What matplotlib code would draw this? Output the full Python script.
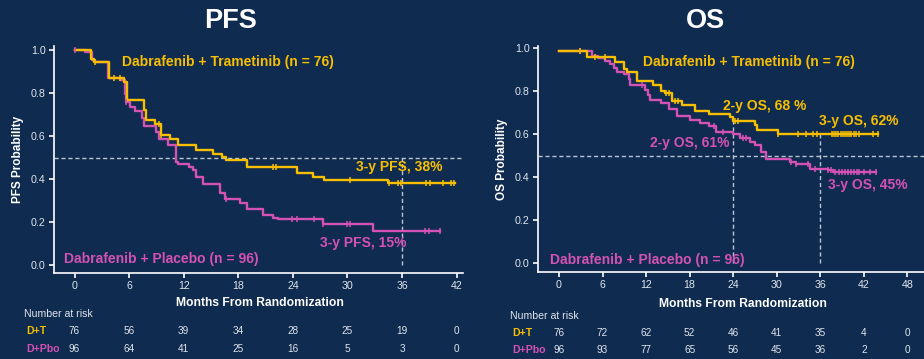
########################
## PFS / OS Kaplan-Meier panels
########################

import matplotlib
matplotlib.use("Agg")
import matplotlib.pyplot as plt
import numpy as np

plt.rcParams['font.family'] = ['Liberation Sans', 'DejaVu Sans']

# Colours
BG = '#0f2b50'
YELLOW = '#f7bf00'
MAGENTA = '#d452b4'
WHITE = '#ffffff'
LIGHT = '#dfe5ec'
DASH = '#b9c4d0'

# PFS, Dabrafenib + Trametinib
pfs_dt_time = [0, 1.8, 2.1, 3.8, 5.4, 5.8, 7.6, 7.9, 8.8, 9.5, 10.5, 11.4, 13.3, 15.2, 16.2, 16.6, 19.0, 24.4, 26.2, 27.4, 34.5]
pfs_dt_surv = [1.0, 0.957, 0.944, 0.869, 0.853, 0.769, 0.721, 0.676, 0.657, 0.603, 0.585, 0.558, 0.533, 0.516, 0.502, 0.488, 0.456, 0.429, 0.411, 0.395, 0.38]
pfs_dt_end = 41.8
pfs_dt_cens = [2.2, 4.3, 5.0, 9.3, 9.5, 21.8, 22.1, 30.3, 34.6, 35.6, 35.9, 38.6, 39.1, 40.5, 41.4, 41.7]

# PFS, Dabrafenib + Placebo
pfs_dp_time = [0, 1.1, 1.9, 2.3, 3.7, 5.0, 5.5, 5.7, 6.1, 6.6, 7.4, 7.6, 9.0, 9.3, 10.3, 11.2, 11.4, 12.6, 13.0, 13.3, 14.1, 16.0, 16.5, 18.2, 19.0, 20.7, 21.8, 22.4, 27.3, 32.8]
pfs_dp_surv = [1.0, 0.99, 0.955, 0.943, 0.871, 0.86, 0.795, 0.76, 0.737, 0.716, 0.682, 0.647, 0.62, 0.586, 0.558, 0.48, 0.47, 0.457, 0.44, 0.41, 0.377, 0.333, 0.307, 0.287, 0.259, 0.233, 0.217, 0.212, 0.19, 0.157]
pfs_dp_end = 40.2
pfs_dp_cens = [0.0, 5.7, 16.7, 23.9, 24.4, 26.3, 27.3, 29.9, 30.3, 38.5, 39.0, 40.2]

# OS, Dabrafenib + Trametinib
os_dt_time = [0, 3.8, 7.7, 8.95, 9.3, 10.7, 13.0, 14.1, 14.6, 15.5, 16.9, 18.7, 20.6, 23.5, 24.0, 27.0, 27.3, 30.2]
os_dt_surv = [0.987, 0.96, 0.934, 0.904, 0.888, 0.847, 0.83, 0.80, 0.79, 0.755, 0.735, 0.708, 0.694, 0.679, 0.663, 0.643, 0.618, 0.602]
os_dt_end = 44.0
os_dt_cens = [2.9, 5.0, 6.3, 14.8, 15.1, 16.0, 16.4, 24.2, 24.7, 30.2, 33.0, 34.0, 35.0, 35.6,
              37.6, 37.9, 38.2, 38.5, 38.8, 39.1, 39.4, 39.7, 40.0, 40.3, 40.6, 40.9, 41.3, 43.3, 44.0]

# OS, Dabrafenib + Placebo
os_dp_time = [0, 4.5, 5.4, 6.3, 7.0, 7.6, 8.0, 8.9, 9.6, 9.8, 11.8, 12.3, 12.5, 14.1, 15.1, 16.2, 18.0, 19.4, 20.6, 21.7, 24.0, 24.9, 26.3, 27.0, 27.9, 28.5, 31.9, 32.7, 34.6, 37.1, 37.8]
os_dp_surv = [0.985, 0.965, 0.954, 0.942, 0.927, 0.908, 0.888, 0.878, 0.858, 0.827, 0.804, 0.781, 0.758, 0.743, 0.717, 0.685, 0.667, 0.651, 0.636, 0.609, 0.599, 0.583, 0.563, 0.548, 0.517, 0.483, 0.473, 0.463, 0.44, 0.432, 0.424]
os_dp_end = 43.7
os_dp_cens = [2.9, 11.4, 21.3, 22.6, 25.4, 25.8, 32.0, 32.7, 34.3, 35.3, 37.1, 37.5, 38.0,
              38.6, 39.0, 39.4, 39.8, 40.2, 40.6, 41.0, 41.4, 42.0, 42.8, 43.7]

# Number at risk
pfs_ticks = [0, 6, 12, 18, 24, 30, 36, 42]
pfs_risk_dt = [76, 56, 39, 34, 28, 25, 19, 0]
pfs_risk_dp = [96, 64, 41, 25, 16, 5, 3, 0]
os_ticks = [0, 6, 12, 18, 24, 30, 36, 42, 48]
os_risk_dt = [76, 72, 62, 52, 46, 41, 35, 4, 0]
os_risk_dp = [96, 93, 77, 65, 56, 45, 36, 2, 0]

W, H = 924, 359


def fx(px):
    return px / W


def fy(py):
    return 1 - py / H


def km(ax, time, surv, end, cens, color):
    '''
    Step curve plus censor ticks
    '''
    t = list(time) + [end]
    s = list(surv) + [surv[-1]]
    ax.step(t, s, where='post', color=color, lw=1.7, zorder=3)
    idx = np.searchsorted(np.array(time), np.array(cens), side='right') - 1
    ax.plot(cens, np.array(surv)[idx], ls='none', marker='|', ms=5, mew=1.1, color=color, zorder=4)


def style_axes(ax, ticks, xlim, ylim):
    ax.set_facecolor(BG)
    ax.set_xlim(*xlim)
    ax.set_ylim(*ylim)
    for side in ['top', 'right']:
        ax.spines[side].set_visible(False)
    for side in ['left', 'bottom']:
        ax.spines[side].set_color(WHITE)
        ax.spines[side].set_linewidth(1.2)
    ax.set_xticks(ticks)
    ax.set_yticks([0.0, 0.2, 0.4, 0.6, 0.8, 1.0])
    ax.set_yticklabels(['0.0', '0.2', '0.4', '0.6', '0.8', '1.0'])
    ax.tick_params(colors=WHITE, labelcolor=LIGHT, labelsize=7.7, length=3.5, width=1.2, pad=2.5)


fig = plt.figure(figsize=(W / 100, H / 100), dpi=100)
fig.patch.set_facecolor(BG)

# PFS panel
ax1 = fig.add_axes([fx(54), fy(273), fx(463 - 54), (273 - 46) / H])
style_axes(ax1, pfs_ticks, (-2.26, 42.7), (-0.037, 1.019))
ax1.axhline(0.5, color=DASH, lw=1, ls=(0, (3, 2)), zorder=1)
ax1.plot([36, 36], [0, 0.5], color=DASH, lw=1, ls=(0, (3, 2)), zorder=1)
km(ax1, pfs_dp_time, pfs_dp_surv, pfs_dp_end, pfs_dp_cens, MAGENTA)
km(ax1, pfs_dt_time, pfs_dt_surv, pfs_dt_end, pfs_dt_cens, YELLOW)
ax1.set_ylabel('PFS Probability', color=WHITE, fontsize=8.5, fontweight='bold', labelpad=5)

# OS panel
ax2 = fig.add_axes([fx(538), fy(271.7), fx(924 - 538), (271.7 - 46) / H])
style_axes(ax2, os_ticks, (-2.9, 50.3), (-0.039, 1.01))
ax2.axhline(0.5, color=DASH, lw=1, ls=(0, (3, 2)), zorder=1)
ax2.plot([24, 24], [0, 0.67], color=DASH, lw=1, ls=(0, (3, 2)), zorder=1)
ax2.plot([36, 36], [0, 0.6], color=DASH, lw=1, ls=(0, (3, 2)), zorder=1)
km(ax2, os_dp_time, os_dp_surv, os_dp_end, os_dp_cens, MAGENTA)
km(ax2, os_dt_time, os_dt_surv, os_dt_end, os_dt_cens, YELLOW)
ax2.set_ylabel('OS Probability', color=WHITE, fontsize=8.5, fontweight='bold', labelpad=5)

# Titles
fig.text(fx(230), fy(21), 'PFS', color=WHITE, fontsize=19.5, fontweight='bold', ha='center', va='center')
fig.text(fx(705), fy(21), 'OS', color=WHITE, fontsize=19.5, fontweight='bold', ha='center', va='center')

# Curve annotations
lab = dict(fontsize=10, fontweight='bold', va='center')
fig.text(fx(122), fy(62), 'Dabrafenib + Trametinib (n = 76)', color=YELLOW, ha='left', **lab)
fig.text(fx(442), fy(167), '3-y PFS, 38%', color=YELLOW, ha='right', **lab)
fig.text(fx(407), fy(243), '3-y PFS, 15%', color=MAGENTA, ha='right', **lab)
fig.text(fx(64), fy(259), 'Dabrafenib + Placebo (n = 96)', color=MAGENTA, ha='left', **lab)

fig.text(fx(643), fy(62), 'Dabrafenib + Trametinib (n = 76)', color=YELLOW, ha='left', **lab)
fig.text(fx(723), fy(106), '2-y OS, 68 %', color=YELLOW, ha='left', **lab)
fig.text(fx(819), fy(121), '3-y OS, 62%', color=YELLOW, ha='left', **lab)
fig.text(fx(729), fy(143), '2-y OS, 61%', color=MAGENTA, ha='right', **lab)
fig.text(fx(908), fy(185), '3-y OS, 45%', color=MAGENTA, ha='right', **lab)
fig.text(fx(550), fy(260), 'Dabrafenib + Placebo (n = 96)', color=MAGENTA, ha='left', **lab)

# X axis titles
fig.text(fx(260), fy(302.5), 'Months From Randomization', color=WHITE, fontsize=8.7, fontweight='bold', ha='center', va='center')
fig.text(fx(743), fy(304), 'Months From Randomization', color=WHITE, fontsize=8.7, fontweight='bold', ha='center', va='center')


def risk_table(ax, ticks, risk_dt, risk_dp, left_px, y_head, y_dt, y_dp):
    '''
    Number-at-risk rows under the axis
    '''
    fig.text(fx(left_px), fy(y_head), 'Number at risk', color=LIGHT, fontsize=7.6, ha='left', va='center')
    fig.text(fx(left_px + 2), fy(y_dt), 'D+T', color=YELLOW, fontsize=7.6, fontweight='bold', ha='left', va='center')
    fig.text(fx(left_px + 2), fy(y_dp), 'D+Pbo', color=MAGENTA, fontsize=7.6, fontweight='bold', ha='left', va='center')
    for tick, a, b in zip(ticks, risk_dt, risk_dp):
        xd = ax.transData.transform((tick, 0))[0]
        xf = fig.transFigure.inverted().transform((xd, 0))[0]
        fig.text(xf, fy(y_dt), str(a), color=LIGHT, fontsize=7.2, ha='center', va='center')
        fig.text(xf, fy(y_dp), str(b), color=LIGHT, fontsize=7.2, ha='center', va='center')


risk_table(ax1, pfs_ticks, pfs_risk_dt, pfs_risk_dp, 24, 314, 331.5, 349)
risk_table(ax2, os_ticks, os_risk_dt, os_risk_dp, 510, 316, 333, 350)

fig.savefig('out.png', dpi=100, facecolor=BG)
